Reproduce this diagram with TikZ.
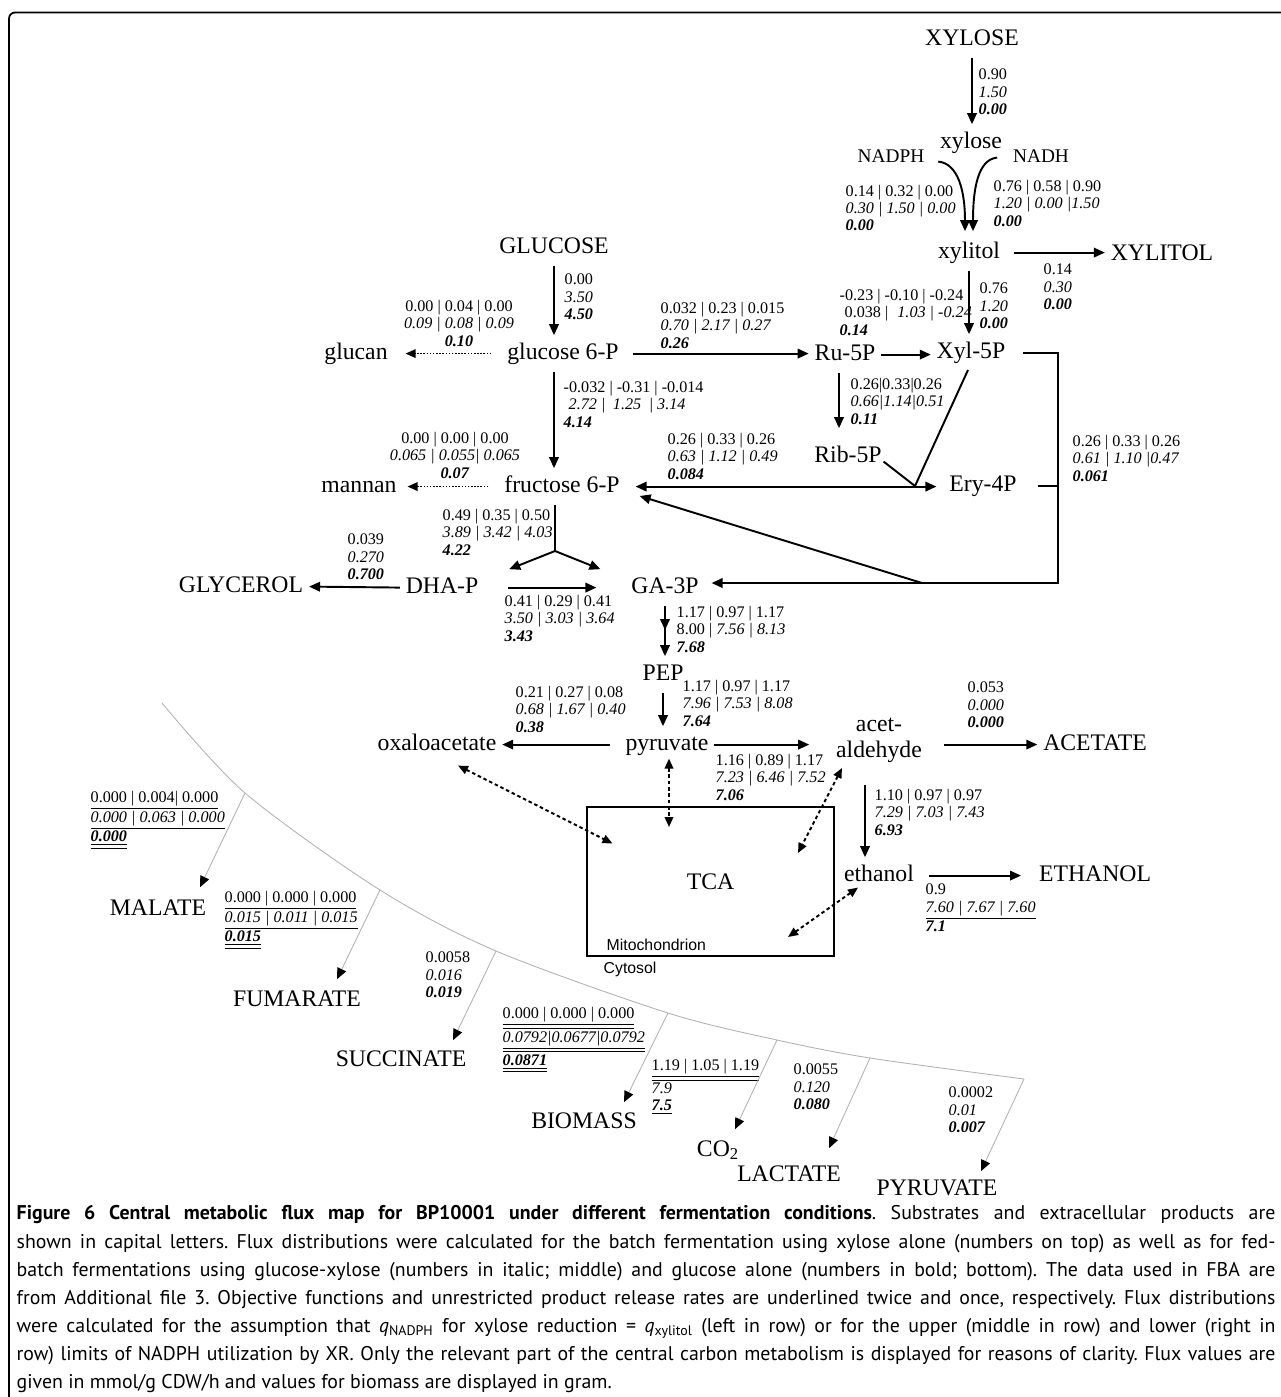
\documentclass[tikz,border=0pt]{standalone}
\usepackage{fontspec}
\setmainfont{Liberation Serif}
\newfontfamily\capfont{PT Sans}
\newfontfamily\arialfont{Liberation Sans}
\usetikzlibrary{arrows.meta, decorations.markings}
\newcommand{\fx}[3]{#1\\\textit{#2}\\\textbf{\textit{#3}}}
\newcommand{\uo}[1]{\underline{#1}}
\newcommand{\ut}[1]{\underline{\underline{#1}}}
\frenchspacing
\begin{document}
\begin{tikzpicture}[x=0.02cm, y=-0.02cm, thick,
    met/.style = {font=\fontsize{13.5}{14.7}\selectfont, inner sep=3pt},
    mol/.style = {met, text height=0.357cm, text depth=0.14cm, anchor=base},
    cof/.style = {mol, font=\fontsize{11}{13}\selectfont},
    lab/.style = {font=\fontsize{9.2}{9.96}\selectfont, align=left, inner sep=0pt, anchor=west},
    labc/.style = {lab, align=center, anchor=center},
    bar/.style = {line width=1.1pt},
    flow/.style = {bar, -{Triangle[length=2.2mm, width=1.9mm]}},
    flow2/.style = {bar, {Triangle[length=2.2mm, width=1.9mm]}-{Triangle[length=2.2mm, width=1.9mm]}},
    trans/.style = {bar, {Triangle[length=2mm, width=1.7mm]}-{Triangle[length=2mm, width=1.7mm]}, dash pattern=on 2pt off 1.6pt},
    drain/.style = {-{Triangle[length=2mm, width=1.7mm]}, line width=0.9pt, dash pattern=on 0.9pt off 0.9pt},
    leak/.style = {-{Triangle[length=2.2mm, width=1.9mm, color=black, fill=black]}, draw=gray!60, line width=0.5pt},
    rim/.style = {draw=gray!60, line width=0.5pt},
    midtip/.style = {postaction={decorate}, decoration={markings, mark=at position 0.48 with {\arrow{Triangle[length=2.2mm, width=1.9mm]}}}},
    note/.style = {font=\arialfont\fontsize{9}{10}\selectfont, inner sep=0pt, anchor=west},
    capt/.style = {font=\capfont\fontsize{11.3}{16}\selectfont, text width=25.18cm, align=justify, inner sep=0pt, anchor=north west}]
  \useasboundingbox (0,0) rectangle (1281,1397);
  \draw[line width=1pt, rounded corners=0.12cm] (9,12.5) rectangle (1300,1402);

  \node[mol] (XYL) at (972,45) {XYLOSE};
  \node[mol] (xyl) at (971,148) {xylose};
  \node[cof] (nadph) at (891,162) {NADPH};
  \node[cof] (nadh) at (1041,162) {NADH};
  \node[mol] (xol) at (969,258) {xylitol};
  \node[mol] (XOL) at (1162,260) {XYLITOL};
  \node[mol] (GLC) at (554,253) {GLUCOSE};
  \node[mol] (g6p) at (563,359) {glucose 6-P};
  \node[mol] (glucan) at (356,359) {glucan};
  \node[mol] (ru) at (845,360) {Ru-5P};
  \node[mol] (x5p) at (971,358) {Xyl-5P};
  \node[mol] (rib) at (848,462) {Rib-5P};
  \node[mol] (ery) at (983,491) {Ery-4P};
  \node[mol] (f6p) at (562,492) {fructose 6-P};
  \node[mol] (mannan) at (359,492) {mannan};
  \node[mol] (GLY) at (241,592) {GLYCEROL};
  \node[mol] (dhap) at (442,593) {DHA-P};
  \node[mol] (ga3p) at (665,593) {GA-3P};
  \node[mol] (pep) at (663,680) {PEP};
  \node[mol] (pyr) at (667,750) {pyruvate};
  \node[mol] (oxa) at (437,750) {oxaloacetate};
  \node[met, align=center] (acet) at (879,740) {acet-\\aldehyde};
  \node[mol] (ACE) at (1095,750) {ACETATE};
  \node[mol] (eth) at (879,881) {ethanol};
  \node[mol] (ETH) at (1095,881) {ETHANOL};
  \node[met, draw, line width=0.9pt, minimum width=4.94cm, minimum height=2.98cm, inner sep=0pt] (tca) at (710.5,881.5) {TCA};
  \node[note] (mito) at (606,945) {Mitochondrion};
  \node[note] (cyto) at (603,969) {Cytosol};
  \node[mol] (MAL) at (158,915) {MALATE};
  \node[mol] (FUM) at (297,1006) {FUMARATE};
  \node[mol] (SUC) at (401,1066) {SUCCINATE};
  \node[mol] (BIO) at (584,1128) {BIOMASS};
  \node[mol] (CO) at (718,1156) {CO\textsubscript{2}};
  \node[mol] (LAC) at (789,1181) {LACTATE};
  \node[mol] (PYR) at (937,1195) {PYRUVATE};

  \node[lab] (fxyl) at (978,92) {\fx{0.90}{1.50}{0.00}};
  \node[lab] (fnadph) at (845,208) {\fx{0.14 | 0.32 | 0.00}{0.30 | 1.50 | 0.00}{0.00}};
  \node[lab] (fnadh) at (993,203) {\fx{0.76 | 0.58 | 0.90}{1.20 | 0.00 |1.50}{0.00}};
  \node[lab] (fxout) at (1043,287) {\fx{0.14}{0.30}{0.00}};
  \node[lab] (fxdh) at (979,306) {\fx{0.76}{1.20}{0.00}};
  \node[lab] (fru) at (839,312) {-0.23 | -0.10 | -0.24\\\hspace{1mm}0.038 | \textit{\hspace{1mm}1.03 | -0.24}\\\textbf{\textit{0.14}}};
  \node[lab] (fglc) at (564,297) {\fx{0.00}{3.50}{4.50}};
  \node[labc] (fglucan) at (459,323) {\fx{0.00 | 0.04 | 0.00}{0.09 | 0.08 | 0.09}{0.10}};
  \node[lab] (fppp) at (660,325) {\fx{0.032 | 0.23 | 0.015}{0.70 | 2.17 | 0.27}{0.26}};
  \node[lab] (fpgi) at (563,404) {\fx{-0.032 | -0.31 | -0.014}{\hspace{1mm}2.72 |\hspace{1.5mm}1.25\hspace{1.5mm}| 3.14}{4.14}};
  \node[lab] (frib) at (850,401) {\fx{0.26|0.33|0.26}{0.66|1.14|0.51}{0.11}};
  \node[labc] (fmannan) at (455,455) {\fx{0.00 | 0.00 | 0.00}{0.065 | 0.055| 0.065}{0.07}};
  \node[lab] (ftkt) at (667,456) {\fx{0.26 | 0.33 | 0.26}{0.63 | 1.12 | 0.49}{0.084}};
  \node[lab] (ftal) at (1072,458) {\fx{0.26 | 0.33 | 0.26}{0.61 | 1.10 |0.47}{0.061}};
  \node[lab] (fald) at (442,532) {\fx{0.49 | 0.35 | 0.50}{3.89 | 3.42 | 4.03}{4.22}};
  \node[lab] (fgly) at (347,557) {\fx{0.039}{0.270}{0.700}};
  \node[lab] (ftpi) at (504,618) {\fx{0.41 | 0.29 | 0.41}{3.50 | 3.03 | 3.64}{3.43}};
  \node[lab] (fgap) at (676,629) {\fx{1.17 | 0.97 | 1.17}{{\upshape 8.00 |} 7.56 | 8.13}{7.68}};
  \node[lab] (fpyk) at (682,703) {\fx{1.17 | 0.97 | 1.17}{7.96 | 7.53 | 8.08}{7.64}};
  \node[lab] (fpyc) at (515,709) {\fx{0.21 | 0.27 | 0.08}{0.68 | 1.67 | 0.40}{0.38}};
  \node[lab] (fpdc) at (715,777) {\fx{1.16 | 0.89 | 1.17}{7.23 | 6.46 | 7.52}{7.06}};
  \node[lab] (face) at (967,705) {\fx{0.053}{0.000}{0.000}};
  \node[lab] (fadh) at (874,812) {\fx{1.10 | 0.97 | 0.97}{7.29 | 7.03 | 7.43}{6.93}};
  \node[lab] (feth) at (925,908) {0.9\\\uo{\textit{7.60 | 7.67 | 7.60}}\\\textbf{\textit{7.1}}};
  \node[lab] (fmal) at (90,820) {\uo{0.000 | 0.004| 0.000}\\\uo{\textit{0.000 | 0.063 | 0.000}}\\\ut{\textbf{\textit{0.000}}}};
  \node[lab] (ffum) at (224,920) {\uo{0.000 | 0.000 | 0.000}\\\uo{\textit{0.015 | 0.011 | 0.015}}\\\ut{\textbf{\textit{0.015}}}};
  \node[lab] (fsuc) at (425,975) {\fx{0.0058}{0.016}{0.019}};
  \node[lab] (fbio) at (502,1040) {\ut{0.000 | 0.000 | 0.000}\\\ut{\textit{0.0792|0.0677|0.0792}}\\\ut{\textbf{\textit{0.0871}}}};
  \node[lab] (fco) at (651,1087) {\ut{1.19 | 1.05 | 1.19}\\\textit{7.9}\\\uo{\textbf{\textit{7.5}}}};
  \node[lab] (flac) at (793,1087) {\fx{0.0055}{0.120}{0.080}};
  \node[lab] (fpyr) at (948,1110) {\fx{0.0002}{0.01}{0.007}};

  \coordinate (c2) at (1058,583);
  \coordinate (dg) at (922,583);
  \coordinate (jn) at (915,486);
  \coordinate (sp) at (555,551);

  \draw[flow] (XYL.south) -- (XYL.south |- xyl.north) ;
  \draw[flow] ([shift={(8,5)}]nadph.east) .. controls +(20,2) and +(0,-40) .. ([shift={(-4,-3)}]xol.north) ;
  \draw[flow] ([shift={(-10,1)}]nadh.west) .. controls +(-20,2) and +(0,-40) .. ([shift={(4,-3)}]xol.north) ;
  \draw[flow, shorten <=0.16cm] (xol.east) -- (xol.east -| XOL.west) ;
  \draw[flow] (xol.south) -- (xol.south |- x5p.north) ;
  \draw[flow] (GLC.south) -- (GLC.south |- g6p.north) ;
  \draw[drain, shorten <=0.2cm, shorten >=0.24cm] (g6p.west) -- (glucan.east) ;
  \draw[flow, shorten <=0.16cm] (g6p.east) -- (g6p.east -| ru.west) ;
  \draw[flow] (g6p.south -| GLC) -- (f6p.north -| GLC) ;
  \draw[drain, shorten <=0.2cm, shorten >=0.1cm] (f6p.west) -- (mannan.east) ;
  \draw[flow] (ru.east) -- (ru.east -| x5p.west) ;
  \draw[flow] ([shift={(-6,0)}]ru.south) -- ([shift={(-9,-10)}]rib.north) ;
  \draw[bar] ([shift={(-3,-1)}]x5p.south) -- (jn) ;
  \draw[bar] ([shift={(-4,5)}]rib.east) -- (jn) ;
  \draw[flow2, shorten <=0.2cm, shorten >=0.14cm] (f6p.east) -- (f6p.east -| ery.west) ;
  \draw[flow, shorten <=0.24cm, shorten >=0.14cm] (x5p.east) -| (c2) -- (c2 -| ga3p.east) ;
  \draw[bar, shorten <=0.3cm] (ery.east) -- (ery.east -| c2) ;
  \draw[flow] (dg) -- ([shift={(14,-9)}]f6p.south east) ;
  \draw[bar] (f6p.south -| sp) -- (sp) ;
  \draw[flow] (sp) -- ([shift={(25,0)}]dhap.north east) ;
  \draw[flow] (sp) -- ([shift={(-25,0)}]ga3p.north west) ;
  \draw[flow, shorten <=0.48cm, shorten >=0.58cm] (dhap.east) -- (ga3p.west) ;
  \draw[flow] (dhap.west) -- (GLY.east) ;
  \draw[flow, midtip] (ga3p.south) -- (ga3p.south |- pep.north) ;
  \draw[flow] (pep.south) -- (pep.south |- pyr.north) ;
  \draw[flow, shorten <=0.2cm] (pyr.west) -- (oxa.east) ;
  \draw[flow, shorten >=0.42cm] (pyr.east) -- (pyr.east -| acet.west) ;
  \draw[flow, shorten <=0.32cm] (ACE.west -| acet.east) -- (ACE.west) ;
  \draw[flow] ([shift={(-14,17)}]acet.south) -- ([shift={(-14,0)}]eth.north) ;
  \draw[flow, shorten <=0.18cm, shorten >=0.24cm] (eth.east) -- (ETH.west) ;

  \draw[trans] ([shift={(21,21)}]oxa.center) -- ([shift={(-98,-38)}]tca.center) ;
  \draw[trans] ([shift={(2,14)}]pyr.center) -- ([shift={(-41.5,-54.5)}]tca.center) ;
  \draw[trans] ([shift={(-37,28)}]acet.center) -- ([shift={(87.5,-28.5)}]tca.center) ;
  \draw[trans] ([shift={(-21,12)}]eth.center) -- ([shift={(77.5,55.5)}]tca.center) ;

  \coordinate (a0) at (162,703);
  \coordinate (a1) at (245,793);
  \coordinate (a2) at (380,890);
  \coordinate (a3) at (496,951);
  \coordinate (a4) at (668,1013);
  \coordinate (a5) at (777,1040);
  \coordinate (a6) at (870,1058);
  \coordinate (a7) at (1024,1079);
  \draw[rim] plot[smooth] coordinates {(a0) (a1) (a2) (a3) (a4) (a5) (a6) (a7)};
  \draw[leak] (a1) -- ([shift={(42,-4)}]MAL.north) ;
  \draw[leak] (a2) -- ([shift={(40,-3)}]FUM.north) ;
  \draw[leak] (a3) -- ([shift={(52,-2)}]SUC.north) ;
  \draw[leak] (a4) -- ([shift={(40,-2)}]BIO.north) ;
  \draw[leak] (a5) -- ([shift={(17,-3)}]CO.north) ;
  \draw[leak] (a6) -- ([shift={(40,-9)}]LAC.north) ;
  \draw[leak] (a7) -- ([shift={(44,0)}]PYR.north) ;

  \node[capt] (cap) at (16,1205) {\textbf{Figure 6 Central metabolic flux map for BP10001 under different fermentation conditions}. Substrates and extracellular products are\linebreak
    shown in capital letters. Flux distributions were calculated for the batch fermentation using xylose alone (numbers on top) as well as for fed-\linebreak
    batch fermentations using glucose-xylose (numbers in italic; middle) and glucose alone (numbers in bold; bottom). The data used in FBA are\linebreak
    from Additional file 3. Objective functions and unrestricted product release rates are underlined twice and once, respectively. Flux distributions\linebreak
    were calculated for the assumption that {\itshape q}\textsubscript{NADPH} for xylose reduction = {\itshape q}\textsubscript{xylitol} (left in row) or for the upper (middle in row) and lower (right in\linebreak
    row) limits of NADPH utilization by XR. Only the relevant part of the central carbon metabolism is displayed for reasons of clarity. Flux values are\linebreak
    given in mmol/g CDW/h and values for biomass are displayed in gram.};
\end{tikzpicture}
\end{document}
